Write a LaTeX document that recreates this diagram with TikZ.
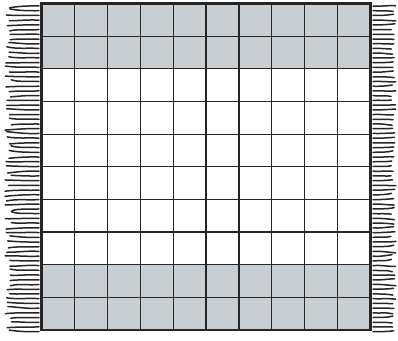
\documentclass[tikz,border=0pt]{standalone}
\usetikzlibrary{calc}
\definecolor{c1}{HTML}{262626}
\definecolor{c2}{HTML}{C9CED3}
\definecolor{c3}{HTML}{FFFFFF}

\begin{document}
\begin{tikzpicture}[
    x=1pt, y=-1pt,
    edge/.style={c1, line width=2.6pt},
    rule/.style={c1, line width=1.2pt},
    fringe/.style={c1, line width=1.5pt, line cap=round},
]
\useasboundingbox (0,0) rectangle (398,340);

\def\X#1{41.5 + #1*32.9}
\def\Y#1{3.5 + #1*32.65}

% ---------------------------------------------------------------- the rug
\fill[c3] ({\X{0}}, {\Y{0}}) rectangle ({\X{10}}, {\Y{10}});
\fill[c2] ({\X{0}}, {\Y{0}}) rectangle ({\X{10}}, {\Y{2}});
\fill[c2] ({\X{0}}, {\Y{8}}) rectangle ({\X{10}}, {\Y{10}});

\foreach \i in {1,...,9}{
    \draw[rule] ({\X{\i}}, {\Y{0}}) -- ({\X{\i}}, {\Y{10}});
    \draw[rule] ({\X{0}}, {\Y{\i}}) -- ({\X{10}}, {\Y{\i}});
}
\draw[edge] ({\X{0}}, {\Y{0}}) rectangle ({\X{10}}, {\Y{10}});

% ---------------------------------------------------------------- fringe
\pgfmathsetseed{11}
\foreach \k in {0,...,69}{
    \pgfmathsetmacro{\y}{6 + \k*4.72}
    \pgfmathsetmacro{\a}{5 + 7*rnd}
    \pgfmathsetmacro{\d}{-2 + 4*rnd}
    \pgfmathsetmacro{\w}{-1 + 2*rnd}
    \draw[fringe] (39, \y) .. controls (28, {\y+\w}) and (18, {\y-\w}) .. (\a, {\y+\d});
}
\foreach \k in {0,...,69}{
    \pgfmathsetmacro{\y}{6 + \k*4.72}
    \pgfmathsetmacro{\a}{391 + 5*rnd}
    \pgfmathsetmacro{\d}{-1.5 + 3*rnd}
    \pgfmathsetmacro{\w}{-0.8 + 1.6*rnd}
    \draw[fringe] (373, \y) .. controls (380, {\y+\w}) and (386, {\y-\w}) .. (\a, {\y+\d});
}

\end{tikzpicture}
\end{document}
